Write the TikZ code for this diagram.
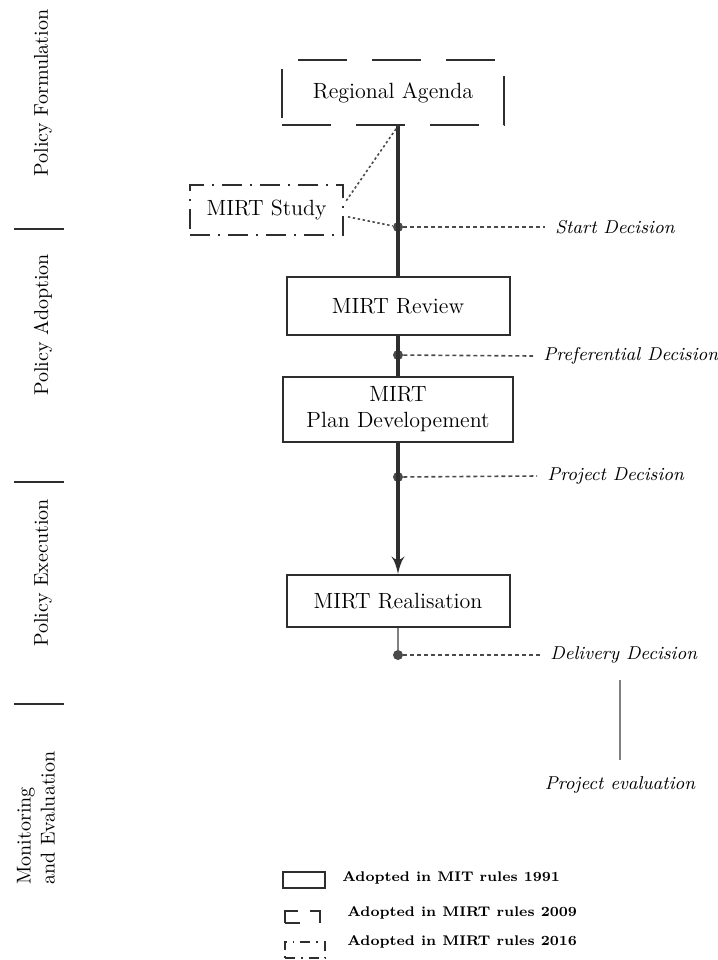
\documentclass[tikz,border=0pt]{standalone}
\usepackage{tikz}
\usetikzlibrary{arrows}
\usetikzlibrary{positioning}
\definecolor{inkgray}{HTML}{2E2E2E}
\definecolor{dotgray}{HTML}{4A4A4A}
\definecolor{paleline}{HTML}{808080}
\tikzset{circ/.style = {fill=dotgray, circle, inner sep = 0, minimum size = 5pt}}
\tikzset{box/.style = {draw=inkgray, line width=1pt, rectangle, inner sep=0,
                       font=\fontsize{11}{13}\selectfont, align=center}}
\tikzset{box09/.style = {box, dash pattern=on 24.5pt off 12.5pt}}
\tikzset{box16/.style = {box, dash pattern=on 10pt off 4pt on 1pt off 4pt}}
\tikzset{decision/.style = {font=\fontsize{9.3}{11}\selectfont\itshape, anchor=west, inner sep=5pt}}
\tikzset{phase/.style = {font=\fontsize{10}{12}\selectfont, rotate=90, align=left, inner sep=0}}
\tikzset{spoke/.style = {dotgray, line width=0.8pt, dash pattern=on 2pt off 1.5pt}}
\tikzset{link/.style = {dotgray, line width=0.8pt, dash pattern=on 1.2pt off 1.3pt}}
\tikzset{trunk/.style = {inkgray, line width=2pt}}
\tikzset{thinline/.style = {paleline, line width=0.7pt}}
\tikzset{sepbar/.style = {inkgray, line width=1pt}}
\tikzset{legtext/.style = {font=\fontsize{7}{8}\selectfont\bfseries, anchor=west, inner sep=0}}

\begin{document}
\begin{tikzpicture}[x=0.5pt, y=-0.5pt]
      \useasboundingbox (0, 0) rectangle (718, 960);

      \node [phase] (formulation) at (43, 93) {Policy Formulation};
      \node [phase] (adoption) at (43, 325) {Policy Adoption};
      \node [phase] (execution) at (43, 573) {Policy Execution};
      \node [phase] (monitoring) at (36, 818) {Monitoring\\and Evaluation};
      \draw [sepbar] (14, 229) -- (64, 229);
      \draw [sepbar] (14, 482) -- (64, 482);
      \draw [sepbar] (14, 704) -- (64, 704);

      \node [box09, minimum width=111pt, minimum height=32.5pt] (agenda) at (393, 92.5) {Regional Agenda};
      \node [box16, minimum width=76.5pt, minimum height=25pt] (study) at (266.5, 210) {MIRT Study};
      \node [box, minimum width=111.5pt, minimum height=29pt] (review) at (398, 306) {MIRT Review};
      \node [box, minimum width=115pt, minimum height=32.5pt] (plan) at (398, 409.5) {MIRT\\Plan Developement};
      \node [box, minimum width=111.5pt, minimum height=26pt] (realisation) at (398, 601) {MIRT Realisation};

      \node [circ] (d1) at (398, 227) {};
      \node [circ] (d2) at (398, 355) {};
      \node [circ] (d3) at (398, 477) {};
      \node [circ] (d4) at (398, 655) {};
      \coordinate (foot) at (agenda.south -| d1);

      \draw [trunk] (foot) -- (review.north);
      \draw [trunk] (review.south) -- (plan.north);
      \draw [trunk, -latex'] (plan.south) -- (realisation.north);
      \draw [thinline] (realisation.south) -- (d4);

      \draw [link, shorten <=2pt] ([yshift=3pt]study.east) -- (foot);
      \draw [link, shorten <=2pt] ([yshift=-3pt]study.east) -- (d1);

      \node [decision] (start) at (545, 227) {Start Decision};
      \node [decision] (preferential) at (533, 356) {Preferential Decision};
      \node [decision] (project) at (537, 476) {Project Decision};
      \node [decision] (delivery) at (540, 655) {Delivery Decision};
      \node [decision, anchor=center] (evaluation) at (620, 785) {Project evaluation};
      \draw [spoke] (d1) -- (start.west);
      \draw [spoke] (d2) -- (preferential.west);
      \draw [spoke] (d3) -- (project.west);
      \draw [spoke] (d4) -- (delivery.west);
      \draw [thinline, shorten <=3pt, shorten >=3pt] (evaluation.north |- delivery.south) -- (evaluation.north);

      \node [box, minimum width=21pt, minimum height=8pt] (key91) at (304, 880) {};
      \node [box, line width=0.9pt, minimum width=17.5pt, minimum height=6pt,
             dash pattern=on 7.5pt off 10pt on 11pt off 6pt on 12.5pt off 0.01pt] (key09) at (302.5, 917) {};
      \node [box, line width=0.9pt, minimum width=20pt, minimum height=8pt,
             dash pattern=on 5pt off 3pt on 0.8pt off 3pt] (key16) at (305, 950) {};
      \node [legtext] (text91) at (342, 878) {Adopted in MIT rules 1991};
      \node [legtext] (text09) at (347, 913) {Adopted in MIRT rules 2009};
      \node [legtext] (text16) at (347, 942) {Adopted in MIRT rules 2016};
    \end{tikzpicture}
\end{document}
